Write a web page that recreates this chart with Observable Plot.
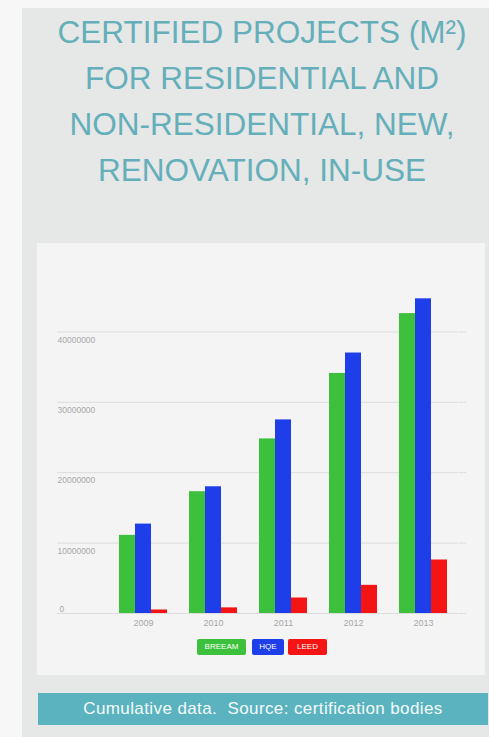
<!DOCTYPE html>
<html>
<head>
<meta charset="utf-8">
<script src="https://cdn.jsdelivr.net/npm/d3@7"></script>
<script src="https://cdn.jsdelivr.net/npm/@observablehq/plot@0.6"></script>
<style>
  html, body { margin: 0; padding: 0; }
  body { width: 489px; height: 737px; background: #f7f7f7; position: relative; overflow: hidden; font-family: "Liberation Sans", Arial, sans-serif; }
  #outer { position: absolute; left: 22px; top: 8px; width: 467px; height: 729px; background: #e6e7e7; }
  #title { position: absolute; left: 22px; top: 9px; width: 480px; text-align: center; color: #64afb9; font-size: 31.5px; line-height: 46px; }
  #panel { position: absolute; left: 37px; top: 243px; width: 448px; height: 432px; background: #f4f4f4; }
  #chart { position: absolute; left: 0; top: 0; }
  #legend { position: absolute; left: 0; top: 396px; width: 100%; height: 16px; }
  .lg { position: absolute; top: 0; height: 16px; line-height: 16px; color: #fff; font-size: 8px; text-align: center; border-radius: 2px; }
  #caption { position: absolute; left: 38px; top: 693px; width: 450px; height: 32px; background: #5ab3be; color: #f4fafb; font-size: 17px; letter-spacing: 0.4px; line-height: 32px; text-align: center; }
</style>
</head>
<body>
<div id="outer"></div>
<div id="title">CERTIFIED PROJECTS (M²)<br>FOR RESIDENTIAL AND<br>NON-RESIDENTIAL, NEW,<br>RENOVATION, IN-USE</div>
<div id="panel">
  <div id="chart"></div>
  <div id="legend"></div>
</div>
<div id="caption">Cumulative data.&nbsp; Source: certification bodies</div>
<script>
const years = ["2009", "2010", "2011", "2012", "2013"];
const series = ["BREEAM", "HQE", "LEED"];
const breeam = [11100000, 17300000, 24800000, 34100000, 42600000];
const hqe = [12700000, 18000000, 27500000, 37000000, 44700000];
const leed = [500000, 800000, 2200000, 4000000, 7600000];
const yTicks = [0, 10000000, 20000000, 30000000, 40000000];
const colors = ["#3dc13d", "#1d3ee8", "#f41414"];

const valuesBySeries = {BREEAM: breeam, HQE: hqe, LEED: leed};
const data = years.flatMap((yr, i) => series.map(s => ({year: yr, series: s, value: valuesBySeries[s][i]})));

const grid = "#dcdcdc";
const labelStyle = {fontSize: 8.5, fill: "#a8a8a8", textAnchor: "start", tickSize: 0, tickPadding: 51, label: null, tickFormat: d => String(d)};
const chart = Plot.plot({
  width: 448,
  height: 400,
  marginLeft: 71,
  marginRight: 27,
  marginTop: 18,
  marginBottom: 30,
  style: {background: "transparent", fontFamily: "'Liberation Sans', Arial, sans-serif", overflow: "visible"},
  fx: {domain: years, padding: 0},
  x: {domain: series, paddingInner: 0, paddingOuter: 0.6},
  y: {domain: [0, 50000000]},
  color: {domain: series, range: colors},
  marks: [
    Plot.gridY(yTicks, {stroke: grid, strokeOpacity: 1}),
    Plot.axisY(yTicks, {anchor: "left", tickSize: 51, stroke: grid, strokeOpacity: 1, tickFormat: () => "", label: null}),
    Plot.axisY(yTicks, {anchor: "right", tickSize: 7, stroke: grid, strokeOpacity: 1, tickFormat: () => "", label: null}),
    Plot.axisY(yTicks.slice(1), {anchor: "left", ...labelStyle, dy: 8}),
    Plot.axisY([0], {anchor: "left", ...labelStyle, tickPadding: 49, dy: -4}),
    Plot.axisX({ticks: [], label: null, tickSize: 0}),
    Plot.axisFx({anchor: "bottom", tickSize: 0, tickPadding: 6, fontSize: 9, fill: "#a8a8a8", label: null}),
    Plot.barY(data, {fx: "year", x: "series", y: "value", fill: "series"})
  ]
});
document.getElementById("chart").appendChild(chart);

const legend = document.getElementById("legend");
const lgPos = [[160, 49], [215, 32], [251, 39]];
series.forEach((s, i) => {
  const el = document.createElement("div");
  el.className = "lg";
  el.textContent = s;
  el.style.left = lgPos[i][0] + "px";
  el.style.width = lgPos[i][1] + "px";
  el.style.background = colors[i];
  legend.appendChild(el);
});
</script>
</body>
</html>
